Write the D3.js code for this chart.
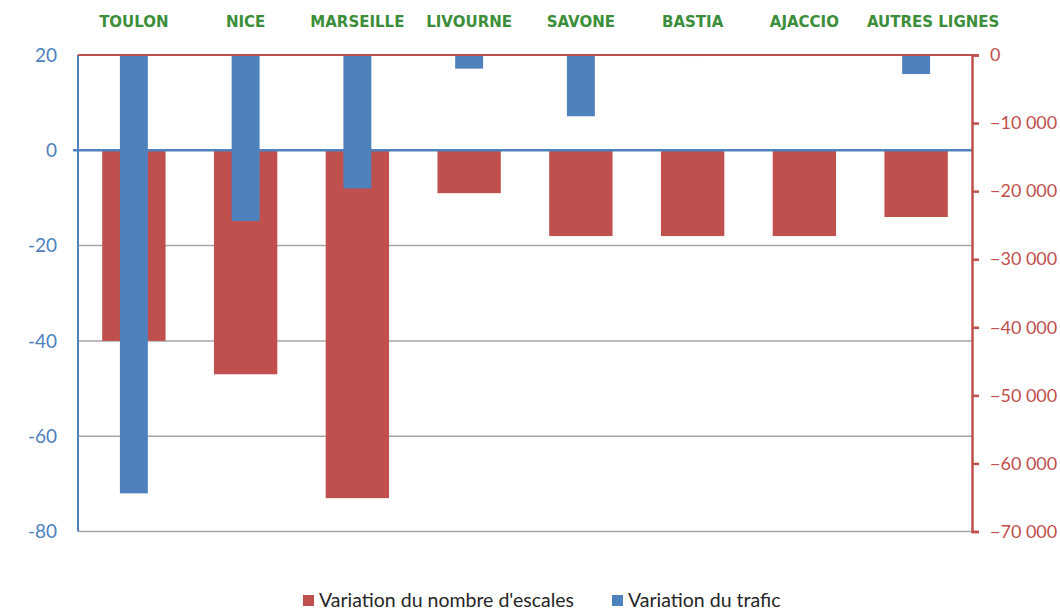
<!DOCTYPE html>
<html>
<head>
<meta charset="utf-8">
<script src="https://cdn.jsdelivr.net/npm/d3@7"></script>
<style>
  body { margin: 0; background: #fff; }
  svg { display: block; }
</style>
</head>
<body>
<div id="chart"></div>
<script>
var categories = ["TOULON", "NICE", "MARSEILLE", "LIVOURNE", "SAVONE", "BASTIA", "AJACCIO", "AUTRES LIGNES"];
var escales = [-40, -47, -73, -9, -18, -18, -18, -14];
var trafic = [-64400, -24400, -19600, -2000, -9000, -150, 0, -2800];
var leftTicks = [20, 0, -20, -40, -60, -80];
var rightTicks = [0, -10000, -20000, -30000, -40000, -50000, -60000, -70000];
var seriesNames = ["Variation du nombre d'escales", "Variation du trafic"];

var red = "#C0504D", blue = "#4F81BD", green = "#3C8E3A";
var W = 1060, H = 609;
var plot = { left: 78, right: 972, top: 55, bottom: 531.5 };
var font = "Lato, 'Open Sans', sans-serif";

var svg = d3.select("#chart").append("svg")
    .attr("width", W)
    .attr("height", H);

var x = d3.scaleBand()
    .domain(categories)
    .range([plot.left, plot.right])
    .paddingInner(0.433)
    .paddingOuter(0.2165);

var xNarrow = d3.scaleBand()
    .domain(categories)
    .range([plot.left, plot.right])
    .paddingInner(0.75)
    .paddingOuter(0.375);

var yLeft = d3.scaleLinear()
    .domain([-80, 20])
    .range([plot.bottom, plot.top]);

var yRight = d3.scaleLinear()
    .domain([-70000, 0])
    .range([plot.bottom, plot.top]);

// gridlines
svg.append("g").selectAll("line")
  .data(leftTicks.filter(function(d) { return d < 0; }))
  .join("line")
    .attr("x1", plot.left).attr("x2", plot.right)
    .attr("y1", function(d) { return yLeft(d); })
    .attr("y2", function(d) { return yLeft(d); })
    .attr("stroke", "#a6a6a6")
    .attr("stroke-width", 1.5);

// red bars (left axis)
svg.append("g").selectAll("rect")
  .data(escales)
  .join("rect")
    .attr("x", function(d, i) { return x(categories[i]); })
    .attr("y", function(d) { return yLeft(Math.max(0, d)); })
    .attr("width", x.bandwidth())
    .attr("height", function(d) { return Math.abs(yLeft(d) - yLeft(0)); })
    .attr("fill", red);

// blue bars (right axis)
svg.append("g").selectAll("rect")
  .data(trafic)
  .join("rect")
    .attr("x", function(d, i) { return xNarrow(categories[i]); })
    .attr("y", function(d) { return yRight(Math.max(0, d)); })
    .attr("width", xNarrow.bandwidth())
    .attr("height", function(d) { return Math.abs(yRight(d) - yRight(0)); })
    .attr("fill", blue);

// left axis
var leftAxis = svg.append("g");
leftAxis.append("line")
    .attr("x1", plot.left).attr("x2", plot.left)
    .attr("y1", plot.top).attr("y2", plot.bottom)
    .attr("stroke", blue).attr("stroke-width", 2);
leftAxis.selectAll("text")
  .data(leftTicks)
  .join("text")
    .attr("x", 57)
    .attr("y", function(d) { return yLeft(d); })
    .attr("dy", "0.36em")
    .attr("text-anchor", "end")
    .attr("font-family", font)
    .attr("font-size", 19)
    .attr("fill", blue)
    .text(function(d) { return d; });

// zero line of the left axis
svg.append("line")
    .attr("x1", plot.left - 5).attr("x2", plot.right)
    .attr("y1", yLeft(0)).attr("y2", yLeft(0))
    .attr("stroke", blue).attr("stroke-width", 2.5);

// top line = zero of the right axis
svg.append("line")
    .attr("x1", plot.left).attr("x2", plot.right)
    .attr("y1", yRight(0)).attr("y2", yRight(0))
    .attr("stroke", red).attr("stroke-width", 2);

// right axis
var fmt = function(d) { return d3.format(",")(d).replace(/,/g, " "); };
var rightAxis = svg.append("g")
    .attr("transform", "translate(" + plot.right + ",0)")
    .call(d3.axisRight(yRight).tickValues(rightTicks).tickSize(7).tickPadding(11).tickFormat(fmt));
rightAxis.select(".domain").attr("stroke", red).attr("stroke-width", 2.5);
rightAxis.selectAll(".tick line").attr("stroke", red).attr("stroke-width", 2.5);
rightAxis.selectAll(".tick text")
    .attr("fill", red)
    .attr("font-family", font)
    .attr("font-size", 18);

// category labels on top (last one sits a bit to the right in the original)
svg.append("g").selectAll("text")
  .data(categories)
  .join("text")
    .attr("x", function(d, i) { return x(d) + x.bandwidth() / 2 + (i === categories.length - 1 ? 17 : 0); })
    .attr("y", 27)
    .attr("text-anchor", "middle")
    .attr("font-family", "'DejaVu Sans', sans-serif")
    .attr("font-weight", "bold")
    .attr("font-size", 15)
    .attr("fill", green)
    .text(function(d) { return d; });

// legend
var legendX = [303, 612];
var legend = svg.append("g").selectAll("g")
  .data(seriesNames)
  .join("g")
    .attr("transform", function(d, i) { return "translate(" + legendX[i] + ",595)"; });
legend.append("rect")
    .attr("width", 11).attr("height", 11)
    .attr("fill", function(d, i) { return i === 0 ? red : blue; });
legend.append("text")
    .attr("x", 16)
    .attr("y", 11.5)
    .attr("font-family", font)
    .attr("font-size", 19.5)
    .attr("fill", "#262626")
    .text(function(d) { return d; });
</script>
</body>
</html>
